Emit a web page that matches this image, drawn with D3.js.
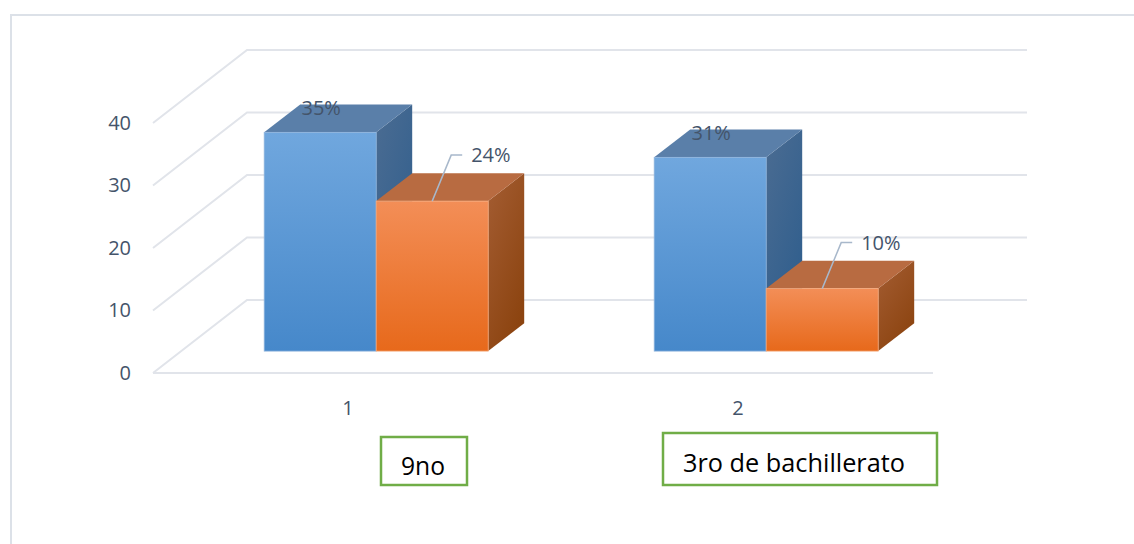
<!DOCTYPE html>
<html>
<head>
<meta charset="utf-8">
<script src="https://cdn.jsdelivr.net/npm/d3@7"></script>
<style>
  html, body { margin: 0; padding: 0; background: #fff; }
  svg { display: block; }
</style>
</head>
<body>
<div id="chart"></div>
<script>
// chart values
const categories = ["1", "2"];
const seriesNames = ["Serie1", "Serie2"];
const series1 = [35, 31];
const series2 = [24, 10];
const labels1 = ["35%", "31%"];
const labels2 = ["24%", "10%"];
const yTicks = [0, 10, 20, 30, 40];
const groupNames = ["9no", "3ro de bachillerato"];

const width = 1134, height = 544;
const depth = { dx: 94, dy: -73 };  // full floor depth in screen px
const barT0 = 0.3, barT1 = 0.683;    // bar slab inside the depth
const barW = 112;

const svg = d3.select("#chart").append("svg")
  .attr("width", width).attr("height", height);

const defs = svg.append("defs");
function vGrad(id, c0, c1, x2, y2) {
  const g = defs.append("linearGradient").attr("id", id)
    .attr("x1", 0).attr("y1", 0).attr("x2", x2).attr("y2", y2);
  g.append("stop").attr("offset", "0%").attr("stop-color", c0);
  g.append("stop").attr("offset", "100%").attr("stop-color", c1);
}
vGrad("blueFront", "#70a7de", "#4688ca", 0, 1);
vGrad("blueSide", "#4b6c92", "#2f5e8d", 0.6, 1);
vGrad("orangeFront", "#f38e57", "#e7691b", 0, 1);
vGrad("orangeSide", "#a45d33", "#8c4410", 0.6, 1);

const palette = {
  Serie1: { front: "url(#blueFront)", top: "#5a7fa9", side: "url(#blueSide)", edge: "#8db3dc" },
  Serie2: { front: "url(#orangeFront)", top: "#b86b41", side: "url(#orangeSide)", edge: "#f6ab7e" },
};

// outer frame (runs off the right and bottom)
svg.append("rect")
  .attr("x", 11).attr("y", 15).attr("width", 1200).attr("height", 600)
  .attr("fill", "none").attr("stroke", "#dce1e8").attr("stroke-width", 2);

const x = d3.scaleBand().domain(categories).range([153, 933]);
const y = d3.scaleLinear().domain([0, 40]).range([373, 123]);
const xs = d3.scaleBand().domain(seriesNames).range([-barW, barW]);

const proj = (px, py, t) => [px + t * depth.dx, py + t * depth.dy];

// gridlines: side wall diagonals + back wall
const grid = svg.append("g")
  .attr("fill", "none").attr("stroke", "#e1e4ea").attr("stroke-width", 2);
grid.selectAll("path.grid")
  .data(yTicks)
  .join("path")
  .attr("class", "grid")
  .attr("d", (v) => {
    const [bx, by] = proj(x.range()[0], y(v), 1);
    const [ex] = proj(x.range()[1], y(v), 1);
    return `M${x.range()[0]},${y(v)}L${bx},${by}L${ex},${by}`;
  });
grid.append("path")
  .attr("d", `M${x.range()[0]},${y(0)}L${x.range()[1]},${y(0)}`);

// y axis labels
const yAxis = svg.append("g")
  .attr("transform", `translate(${x.range()[0]},0)`)
  .call(d3.axisLeft(y).tickValues(yTicks).tickSize(0).tickPadding(22));
yAxis.select(".domain").remove();
yAxis.selectAll("text")
  .attr("font-family", "'Open Sans', sans-serif")
  .attr("font-size", 20)
  .attr("fill", "#44546a");

// category labels
svg.selectAll("text.cat")
  .data(categories)
  .join("text")
  .attr("class", "cat")
  .attr("x", (d) => x(d) + x.bandwidth() / 2)
  .attr("y", 415)
  .attr("text-anchor", "middle")
  .attr("font-family", "'Open Sans', sans-serif")
  .attr("font-size", 20)
  .attr("fill", "#44546a")
  .text((d) => d);

// bars
const barData = [];
categories.forEach((c, i) => {
  barData.push({ cat: c, s: "Serie1", v: series1[i], label: labels1[i] });
  barData.push({ cat: c, s: "Serie2", v: series2[i], label: labels2[i] });
});
barData.forEach((d) => {
  const [l, top] = proj(x(d.cat) + x.bandwidth() / 2 + xs(d.s), y(d.v), barT0);
  const [, bot] = proj(0, y(0), barT0);
  d.l = l; d.r = l + xs.bandwidth(); d.top = top; d.bot = bot;
  d.ddx = (barT1 - barT0) * depth.dx;
  d.ddy = (barT1 - barT0) * depth.dy;
});

const bars = svg.selectAll("g.bar")
  .data(barData)
  .join("g")
  .attr("class", "bar");

bars.append("path")
  .attr("fill", (d) => palette[d.s].side)
  .attr("d", (d) => `M${d.r},${d.top}L${d.r + d.ddx},${d.top + d.ddy}L${d.r + d.ddx},${d.bot + d.ddy}L${d.r},${d.bot}Z`);
bars.append("path")
  .attr("fill", (d) => palette[d.s].top)
  .attr("d", (d) => `M${d.l},${d.top}L${d.r},${d.top}L${d.r + d.ddx},${d.top + d.ddy}L${d.l + d.ddx},${d.top + d.ddy}Z`);
bars.append("rect")
  .attr("x", (d) => d.l)
  .attr("y", (d) => d.top)
  .attr("width", (d) => d.r - d.l)
  .attr("height", (d) => d.bot - d.top)
  .attr("fill", (d) => palette[d.s].front)
  .attr("stroke", (d) => palette[d.s].edge)
  .attr("stroke-width", 0.8);

// data labels
const font = "'Open Sans', sans-serif";
svg.selectAll("text.lab1")
  .data(barData.filter((d) => d.s === "Serie1"))
  .join("text")
  .attr("class", "lab1")
  .attr("x", (d) => (d.l + d.r) / 2 + 1)
  .attr("y", (d) => d.top - 17)
  .attr("text-anchor", "middle")
  .attr("font-family", font).attr("font-size", 20).attr("fill", "#44546a")
  .text((d) => d.label);

const lab2 = barData.filter((d) => d.s === "Serie2");
svg.selectAll("path.leader")
  .data(lab2)
  .join("path")
  .attr("class", "leader")
  .attr("fill", "none").attr("stroke", "#a8b8cb").attr("stroke-width", 1.5)
  .attr("d", (d) => {
    const cx = (d.l + d.r) / 2;
    return `M${cx},${d.top}L${cx + 19},${d.top - 46}L${cx + 30},${d.top - 46}`;
  });
svg.selectAll("text.lab2")
  .data(lab2)
  .join("text")
  .attr("class", "lab2")
  .attr("x", (d) => (d.l + d.r) / 2 + 39)
  .attr("y", (d) => d.top - 46)
  .attr("dy", "0.35em")
  .attr("font-family", font).attr("font-size", 20).attr("fill", "#44546a")
  .text((d) => d.label);

// group name text boxes under the axis
const boxes = [
  { x: 381, y: 437, w: 86, h: 48, tw: 44, base: 475 },
  { x: 663, y: 433, w: 274, h: 52, tw: 222, base: 472 },
];
const nameBox = svg.selectAll("g.name")
  .data(groupNames)
  .join("g")
  .attr("class", "name");
nameBox.append("rect")
  .attr("x", (d, i) => boxes[i].x)
  .attr("y", (d, i) => boxes[i].y)
  .attr("width", (d, i) => boxes[i].w)
  .attr("height", (d, i) => boxes[i].h)
  .attr("fill", "#fff")
  .attr("stroke", "#70ad47")
  .attr("stroke-width", 2.5);
nameBox.append("text")
  .attr("x", (d, i) => boxes[i].x + 20)
  .attr("y", (d, i) => boxes[i].base)
  .attr("font-family", font)
  .attr("font-size", 26)
  .attr("fill", "#000")
  .attr("textLength", (d, i) => boxes[i].tw)
  .attr("lengthAdjust", "spacingAndGlyphs")
  .text((d) => d);
</script>
</body>
</html>
